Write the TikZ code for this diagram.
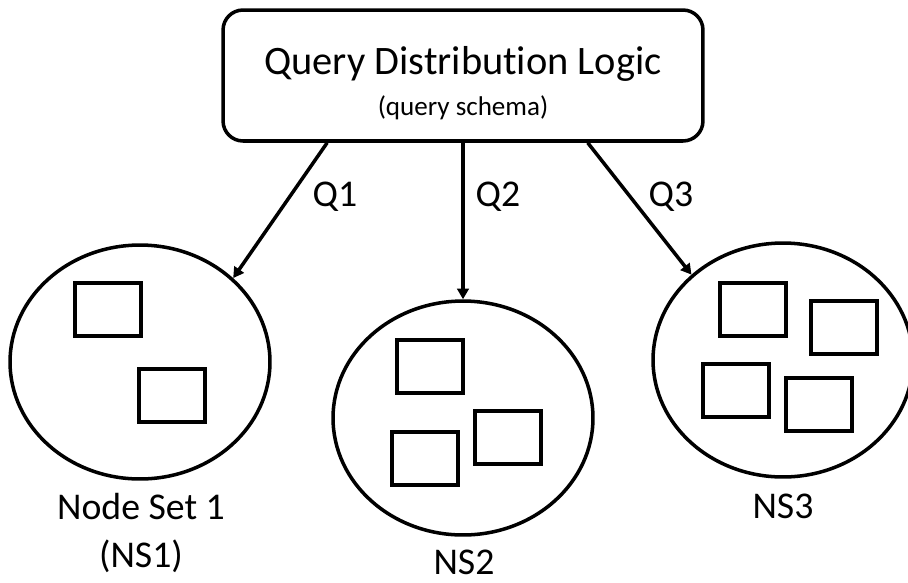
\documentclass[tikz,border=0pt]{standalone}
\usepackage{fontspec}
\setmainfont{Carlito}[Ligatures=NoCommon]
\usetikzlibrary{shapes.geometric,arrows.meta,positioning,calc}

\begin{document}
\begin{tikzpicture}[x=0.02cm,y=-0.02cm,line width=2pt,
    logicbox/.style={draw,rounded corners=0.4cm,minimum width=9.6cm,minimum height=2.62cm,inner sep=0pt},
    nodeset/.style={draw,ellipse,inner sep=0pt,minimum width=5.2cm,minimum height=4.68cm},
    caption/.style={font=\fontsize{21.5}{27}\selectfont,anchor=base,inner sep=0pt},
    query/.style={-{Triangle[length=6pt,width=6.5pt]}}]
    \useasboundingbox (0,0) rectangle (908,582);
    % distribution logic
    \node[logicbox] (qdl) at (463,75.5) {};
    \node[anchor=base,inner sep=0pt,font=\fontsize{23}{28}\selectfont] (title) at (463,74) {Query Distribution Logic};
    \node[anchor=base,inner sep=0pt,font=\fontsize{15.4}{18}\selectfont] (schema) at (463,115) {(query schema)};
    % node sets
    \node[nodeset] (ns1) at (140,362) {};
    \node[nodeset] (ns2) at (463,418) {};
    \node[nodeset] (ns3) at (783,360) {};
    \foreach \x/\y in {75/283, 139/369, 397/340, 475/411, 392/432, 720/283, 811/301, 703/364, 786/378}
        \draw (\x,\y) rectangle ++(66,53);
    % queries
    \draw[query] ($(qdl.south west)!0.219!(qdl.south east)$) -- (ns1.42);
    \draw[query] (qdl.south) -- (ns2.north);
    \draw[query] ($(qdl.south west)!0.758!(qdl.south east)$) -- (ns3.137);
    \node[caption] (q1) at (335,206) {Q1};
    \node[caption] (q2) at (498,206) {Q2};
    \node[caption] (q3) at (671,206) {Q3};
    \node[caption,align=center] (ns1lbl) at (141,567) {Node Set 1\\(NS1)};
    \node[caption] (ns2lbl) at (464,574) {NS2};
    \node[caption] (ns3lbl) at (783,518) {NS3};
\end{tikzpicture}
\end{document}
